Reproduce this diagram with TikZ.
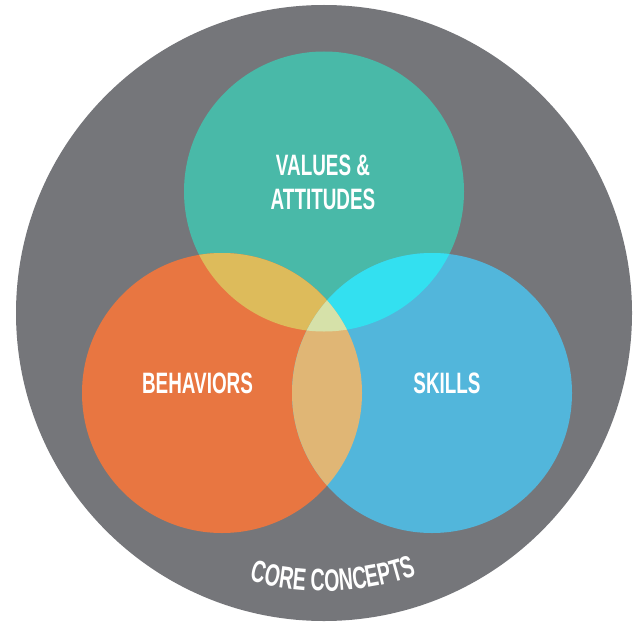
\documentclass[tikz,border=0pt]{standalone}
\usepackage{fontspec}
\usetikzlibrary{decorations.text}
\newfontfamily\vfont[FakeStretch=0.64]{Liberation Sans}
\newfontfamily\corefont[FakeStretch=0.63]{Liberation Sans}
\definecolor{cgray}{HTML}{75767A}
\definecolor{cteal}{HTML}{49B9A8}
\definecolor{corange}{HTML}{E87641}
\definecolor{cblue}{HTML}{52B6DB}
\definecolor{cto}{HTML}{DDBB5B}
\definecolor{ctb}{HTML}{33E0F0}
\definecolor{cob}{HTML}{E0B675}
\definecolor{call}{HTML}{D6E1A9}
\begin{document}
\begin{tikzpicture}[x=1pt,y=1pt,
  lbl/.style={text=white, inner sep=0pt, align=center, font=\vfont\bfseries\fontsize{29.5}{34}\selectfont}]
\useasboundingbox (0,0) rectangle (636,625);
\fill[white] (0,0) rectangle (636,625);
\coordinate (g) at (324,312);
\coordinate (t) at (324,433.5);
\coordinate (o) at (222,232);
\coordinate (b) at (432,232);
\def\R{140pt}
\fill[cgray] (g) circle[radius=308pt];
\fill[cteal] (t) circle[radius=\R];
\fill[corange] (o) circle[radius=\R];
\fill[cblue] (b) circle[radius=\R];
\begin{scope}
  \clip (o) circle[radius=\R];
  \fill[cto] (t) circle[radius=\R];
\end{scope}
\begin{scope}
  \clip (b) circle[radius=\R];
  \fill[ctb] (t) circle[radius=\R];
\end{scope}
\begin{scope}
  \clip (o) circle[radius=\R];
  \fill[cob] (b) circle[radius=\R];
\end{scope}
\begin{scope}
  \clip (o) circle[radius=\R];
  \clip (b) circle[radius=\R];
  \fill[call] (t) circle[radius=\R];
\end{scope}
\node[lbl] (values) at (323,442.5) {VALUES \&\\ATTITUDES};
\node[lbl] (behav) at (197.5,241.5) {BEHAVIORS};
\node[lbl] (skills) at (447,241.5) {SKILLS};
\path[decorate, decoration={text along path, text align=center, text color=white,
  text={|\corefont\bfseries\fontsize{31}{31}\selectfont|CORE CONCEPTS}}]
  (g) ++(232:278pt) arc[start angle=232, end angle=312, radius=278pt];
\end{tikzpicture}
\end{document}
